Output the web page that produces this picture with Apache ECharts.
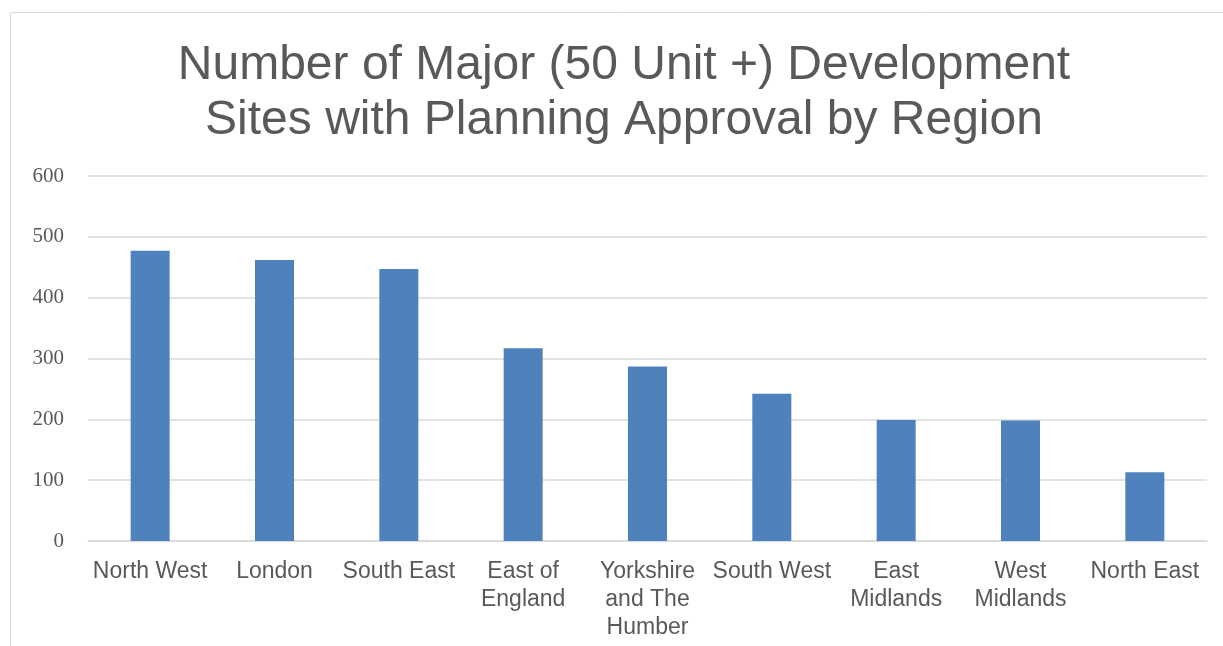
<!DOCTYPE html>
<html>
<head>
<meta charset="utf-8">
<script src="https://cdn.jsdelivr.net/npm/echarts@6/dist/echarts.min.js"></script>
<style>
  html, body { margin: 0; padding: 0; background: #fff; }
  #chart { width: 1223px; height: 646px; }
</style>
</head>
<body>
<div id="chart"></div>
<script>
var categories = ['North West', 'London', 'South East', 'East of\nEngland', 'Yorkshire\nand The\nHumber',
    'South West', 'East\nMidlands', 'West\nMidlands', 'North East'];
var sites = [477, 462, 447, 317, 287, 242, 199, 198, 113];
var yTicks = { min: 0, max: 600, interval: 100 };

var textColor = '#595959';
var gridColor = '#d9d9d9';

var myChart = echarts.init(document.getElementById('chart'), null, { renderer: 'canvas' });

var option = {
    backgroundColor: '#fff',
    animation: false,
    graphic: [{
        // outer chart border (runs off the right and bottom edges)
        type: 'rect',
        shape: { x: 10.5, y: 12.5, width: 1260, height: 700 },
        style: { fill: 'none', stroke: gridColor, lineWidth: 1 },
        silent: true
    }],
    title: {
        text: 'Number of Major (50 Unit +) Development\nSites with Planning Approval by Region',
        left: 619,
        textAlign: 'center',
        top: 33,
        textStyle: {
            fontFamily: 'Liberation Sans',
            fontWeight: 'normal',
            fontSize: 48,
            lineHeight: 55,
            color: textColor
        }
    },
    grid: {
        left: 88,
        right: 16,
        top: 176,
        bottom: 105
    },
    xAxis: {
        type: 'category',
        data: categories,
        axisLine: { show: true, lineStyle: { color: gridColor, width: 1.5 } },
        axisTick: { show: false },
        axisLabel: {
            interval: 0,
            margin: 17,
            fontFamily: 'Liberation Sans',
            fontSize: 23,
            lineHeight: 28,
            color: textColor
        }
    },
    yAxis: {
        type: 'value',
        min: yTicks.min,
        max: yTicks.max,
        interval: yTicks.interval,
        axisLine: { show: false },
        axisTick: { show: false },
        axisLabel: {
            margin: 24,
            fontFamily: 'Liberation Serif',
            fontSize: 21,
            color: textColor
        },
        splitLine: { lineStyle: { color: gridColor, width: 1.5 } }
    },
    series: [{
        type: 'bar',
        data: sites,
        barWidth: 39,
        itemStyle: { color: '#4f81bd' }
    }]
};

myChart.setOption(option);
window.addEventListener('resize', myChart.resize);
</script>
</body>
</html>
